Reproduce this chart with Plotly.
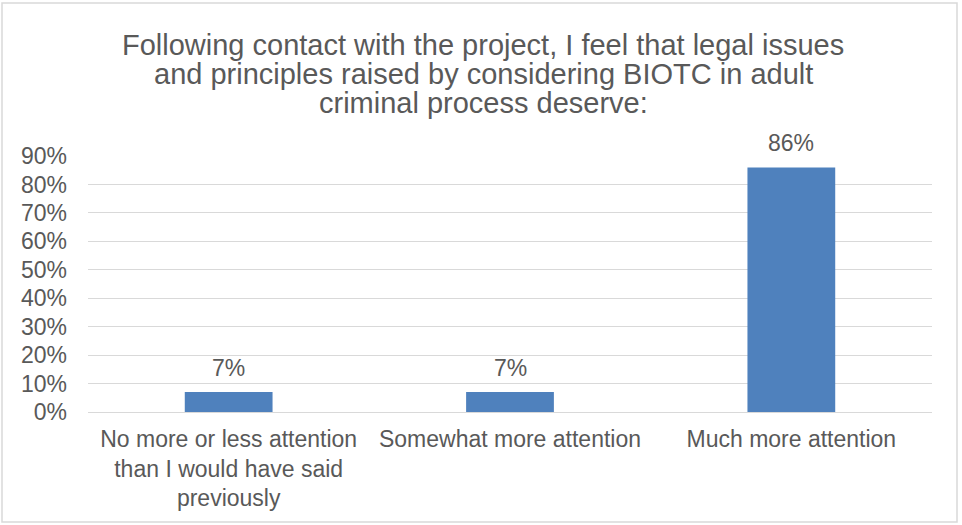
import plotly.graph_objects as go

categories = [
    "No more or less attention<br>than I would have said<br>previously",
    "Somewhat more attention",
    "Much more attention",
]
shares = [0.07, 0.07, 0.86]
tick_values = [0, 0.1, 0.2, 0.3, 0.4, 0.5, 0.6, 0.7, 0.8, 0.9]
tick_labels = ["0%", "10%", "20%", "30%", "40%", "50%", "60%", "70%", "80%", "90%"]
title_lines = [
    "Following contact with the project, I feel that legal issues",
    "and principles raised by considering BIOTC in adult",
    "criminal process deserve:",
]

FONT = "Liberation Sans, Arial, sans-serif"
GREY = "#595959"

MT, MB, ML, MR = 156, 113, 88, 30
W, H = 962, 525
PH = H - MT - MB
PW = W - ML - MR

fig = go.Figure(
    go.Bar(
        x=categories,
        y=shares,
        marker=dict(color="#4f81bd", line=dict(width=0)),
    )
)

# value labels above each bar
annotations = [
    dict(text=f"{round(v * 100)}%", x=c, y=v, xref="x", yref="y",
         xanchor="center", yanchor="middle", yshift=24, showarrow=False,
         font=dict(family=FONT, size=23, color=GREY))
    for c, v in zip(categories, shares)
]

# title drawn line by line for tight line spacing
title_centres = [45, 74, 103]
annotations += [
    dict(text=line, xref="paper", yref="paper", x=(483 - ML) / PW,
         y=1 + (MT - yc) / PH, xanchor="center", yanchor="middle",
         showarrow=False, font=dict(family=FONT, size=29, color=GREY))
    for line, yc in zip(title_lines, title_centres)
]

fig.update_layout(
    width=W,
    height=H,
    margin=dict(l=ML, r=MR, t=MT, b=MB),
    paper_bgcolor="white",
    plot_bgcolor="white",
    bargap=0.688,
    showlegend=False,
    font=dict(family=FONT, color=GREY),
    annotations=annotations,
    shapes=[
        dict(type="rect", xref="paper", yref="paper",
             x0=-86 / PW, x1=1 + 25 / PW, y0=-110 / PH, y1=1 + 153 / PH,
             line=dict(color="#d9d9d9", width=1.5), fillcolor="rgba(0,0,0,0)",
             layer="below"),
    ],
)

fig.update_xaxes(
    showgrid=False,
    showline=True,
    linecolor="#d9d9d9",
    linewidth=1,
    ticks="",
    ticklabelstandoff=6,
    tickfont=dict(family=FONT, size=23, color=GREY),
)
fig.update_yaxes(
    range=[0, 0.9],
    tickvals=tick_values,
    ticktext=tick_labels,
    showgrid=True,
    gridcolor="#d9d9d9",
    gridwidth=1,
    zeroline=False,
    showline=False,
    ticks="",
    ticklabelstandoff=20,
    tickfont=dict(family=FONT, size=23, color=GREY),
)

fig.write_html("out.html")
